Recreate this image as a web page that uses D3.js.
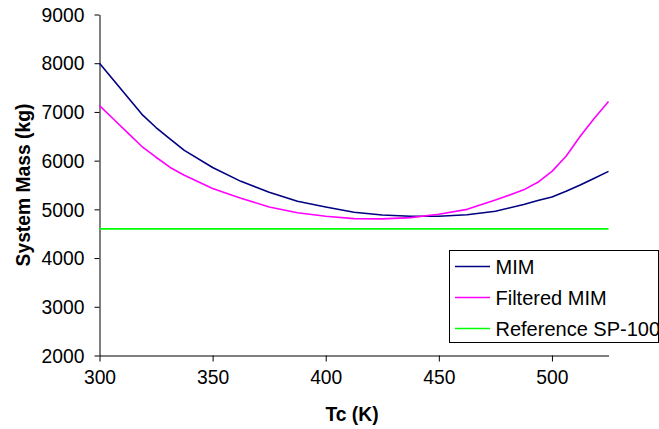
<!DOCTYPE html>
<html>
<head>
<meta charset="utf-8">
<script src="https://cdn.jsdelivr.net/npm/d3@7"></script>
<style>
html,body{margin:0;padding:0;background:#fff;}
svg{display:block;font-family:"Liberation Sans",Arial,sans-serif;}
</style>
</head>
<body>
<svg id="chart" width="659" height="429"></svg>
<script>
const tc = [300, 306.25, 312.5, 318.75, 325, 331.25, 337.5, 350, 362.5, 375, 387.5, 400, 412.5, 425, 437.5, 450, 462.5, 475, 487.5, 493.75, 500, 506.25, 512.5, 518.75, 525];
const mim = [8000, 7650, 7300, 6950, 6680, 6440, 6210, 5860, 5575, 5350, 5165, 5050, 4940, 4885, 4860, 4860, 4890, 4960, 5100, 5180, 5255, 5370, 5500, 5640, 5780];
const filteredMim = [7128, 6850, 6570, 6290, 6070, 5860, 5700, 5430, 5230, 5050, 4930, 4860, 4810, 4805, 4830, 4900, 5000, 5190, 5400, 5555, 5780, 6090, 6500, 6870, 7216];
const referenceSP100 = [4600, 4600];
const referenceX = [300, 525];
const xTicks = [300, 350, 400, 450, 500];
const yTicks = [2000, 3000, 4000, 5000, 6000, 7000, 8000, 9000];
const seriesNames = ["MIM", "Filtered MIM", "Reference SP-100"];
const seriesColors = ["#000080", "#FF00FF", "#00FF00"];

const svg = d3.select("#chart");
const x = d3.scaleLinear().domain([300, 525]).range([99.5, 608.5]);
const y = d3.scaleLinear().domain([2000, 9000]).range([355.5, 14.5]);
const fontSize = 19.3;

// axes
const gx = svg.append("g").attr("transform", `translate(0,${y(2000)})`)
  .call(d3.axisBottom(x).tickValues(xTicks).tickSizeOuter(0).tickSizeInner(6).tickPadding(9).tickFormat(d3.format("d")));
const gy = svg.append("g").attr("transform", `translate(${x(300)},0)`)
  .call(d3.axisLeft(y).tickValues(yTicks).tickSizeOuter(0).tickSizeInner(5).tickPadding(10).tickFormat(d3.format("d")));
[gx, gy].forEach(g => {
  g.select(".domain").attr("stroke", "#000").attr("stroke-width", 1);
  g.selectAll(".tick line").attr("stroke", "#000");
  g.selectAll(".tick text").attr("fill", "#000").attr("font-size", fontSize).attr("font-family", "Liberation Sans, Arial, sans-serif");
});
gy.selectAll(".tick text").attr("dy", "0.35em");

// lines
const line = d3.line().x(d => x(d[0])).y(d => y(d[1]));
const series = [
  d3.zip(tc, mim),
  d3.zip(tc, filteredMim),
  d3.zip(referenceX, referenceSP100)
];
series.forEach((s, i) => {
  svg.append("path").datum(s).attr("d", line)
    .attr("fill", "none").attr("stroke", seriesColors[i]).attr("stroke-width", 1.6)
    .attr("stroke-linejoin", "round");
});

// axis titles
svg.append("text").attr("x", 352).attr("y", 421).attr("text-anchor", "middle")
  .attr("font-weight", "bold").attr("font-size", fontSize).text("Tc (K)");
svg.append("text").attr("transform", "translate(30,185) rotate(-90)").attr("text-anchor", "middle")
  .attr("font-weight", "bold").attr("font-size", fontSize).text("System Mass (kg)");

// legend
const lg = svg.append("g");
lg.append("rect").attr("x", 449.5).attr("y", 250.5).attr("width", 209).attr("height", 92)
  .attr("fill", "#fff").attr("stroke", "#000").attr("stroke-width", 1);
const rowsY = [266.5, 297.5, 328.5];
seriesNames.forEach((n, i) => {
  lg.append("line").attr("x1", 455).attr("x2", 490).attr("y1", rowsY[i]).attr("y2", rowsY[i])
    .attr("stroke", seriesColors[i]).attr("stroke-width", 1.6);
  lg.append("text").attr("x", 495.5).attr("y", rowsY[i]).attr("dy", "0.35em")
    .attr("font-size", 20).text(n);
});
</script>
</body>
</html>
